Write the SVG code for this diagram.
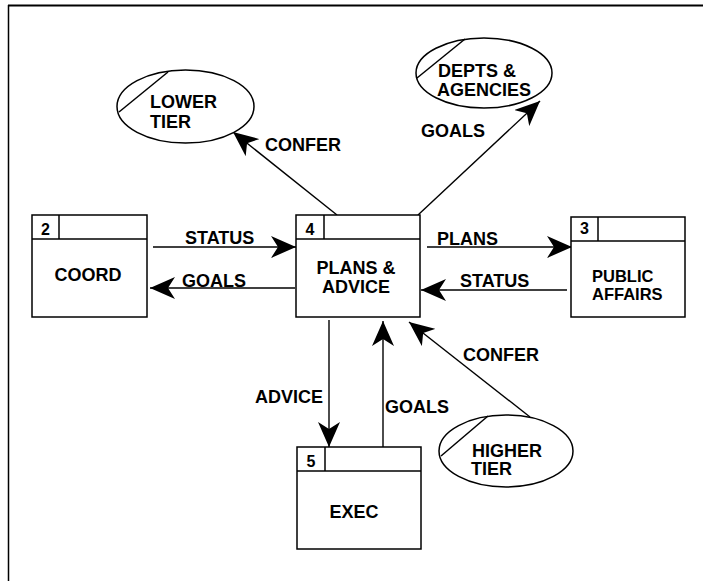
<svg xmlns="http://www.w3.org/2000/svg" width="703" height="582" viewBox="0 0 703 582">
<style>
.t{font-family:"Liberation Sans",Arial,sans-serif;font-weight:bold;font-size:18px;fill:#000}
.n{font-family:"Liberation Sans",Arial,sans-serif;font-weight:bold;font-size:16px;fill:#000;text-anchor:middle}
.c{text-anchor:middle}
.box{fill:#fff;stroke:#000;stroke-width:1.5}
.ln{fill:none;stroke:#000;stroke-width:1.5}
.fl{fill:none;stroke:#000;stroke-width:1.4}
</style>
<defs>
<marker id="ah" markerUnits="userSpaceOnUse" viewBox="0 0 25 22" markerWidth="25" markerHeight="22" refX="25" refY="11" orient="auto">
<path d="M25,11 L0,0 L7,11 L0,22 Z" fill="#000"/>
</marker>
</defs>
<rect width="703" height="582" fill="#fff"/>
<g id="frame">
<line x1="8" y1="5.5" x2="703" y2="5.5" stroke="#000" stroke-width="2"/>
<line x1="8.5" y1="5" x2="8.5" y2="581" stroke="#000" stroke-width="1.5"/>
</g>
<g id="connectors">
<line class="fl" x1="153" y1="247" x2="296" y2="247" marker-end="url(#ah)"/>
<line class="fl" x1="295" y1="288" x2="150" y2="288" marker-end="url(#ah)"/>
<line class="fl" x1="427" y1="247" x2="572" y2="247" marker-end="url(#ah)"/>
<line class="fl" x1="567" y1="290" x2="421" y2="290" marker-end="url(#ah)"/>
<line class="fl" x1="329" y1="320" x2="329" y2="447" marker-end="url(#ah)"/>
<line class="fl" x1="383" y1="447" x2="383" y2="321" marker-end="url(#ah)"/>
<line class="fl" x1="530" y1="417" x2="409" y2="322" marker-end="url(#ah)"/>
<line class="fl" x1="337" y1="215" x2="233" y2="132" marker-end="url(#ah)"/>
<line class="fl" x1="418" y1="215" x2="540" y2="101" marker-end="url(#ah)"/>
<text class="t" x="185" y="244">STATUS</text>
<text class="t" x="182" y="287">GOALS</text>
<text class="t" x="437" y="245">PLANS</text>
<text class="t" x="460" y="287">STATUS</text>
<text class="t" x="255" y="403">ADVICE</text>
<text class="t" x="385" y="413">GOALS</text>
<text class="t" x="463" y="361">CONFER</text>
<text class="t" x="265" y="151">CONFER</text>
<text class="t" x="421" y="137">GOALS</text>
</g>
<g id="node2">
<rect class="box" x="32" y="215" width="115" height="102"/>
<line class="ln" x1="32" y1="239" x2="147" y2="239"/>
<line class="ln" x1="59" y1="215" x2="59" y2="239"/>
<text class="n" x="45.5" y="235">2</text>
<text class="t c" x="88" y="281">COORD</text>
</g>
<g id="node4">
<rect class="box" x="296" y="215" width="124" height="102"/>
<line class="ln" x1="296" y1="239" x2="420" y2="239"/>
<line class="ln" x1="324" y1="215" x2="324" y2="239"/>
<text class="n" x="310" y="235">4</text>
<text class="t c" x="356" y="274">PLANS &amp;</text>
<text class="t c" x="356" y="293">ADVICE</text>
</g>
<g id="node3">
<rect class="box" x="571" y="217" width="114" height="100"/>
<line class="ln" x1="571" y1="241" x2="685" y2="241"/>
<line class="ln" x1="598" y1="217" x2="598" y2="241"/>
<text class="n" x="584.5" y="234">3</text>
<text class="t" x="592" y="282" style="font-size:16.5px">PUBLIC</text>
<text class="t" x="592" y="300" style="font-size:16.5px">AFFAIRS</text>
</g>
<g id="node5">
<rect class="box" x="297" y="447" width="124" height="102"/>
<line class="ln" x1="297" y1="471" x2="421" y2="471"/>
<line class="ln" x1="325" y1="447" x2="325" y2="471"/>
<text class="n" x="311" y="467">5</text>
<text class="t c" x="354" y="518">EXEC</text>
</g>
<g id="lowerTier">
<ellipse class="box" cx="185.5" cy="106.5" rx="68.5" ry="36.5"/>
<line class="ln" x1="119" y1="112" x2="168" y2="72"/>
<text class="t" x="150" y="108">LOWER</text>
<text class="t" x="150" y="128">TIER</text>
</g>
<g id="deptsAgencies">
<ellipse class="box" cx="484" cy="73" rx="68" ry="35"/>
<line class="ln" x1="417" y1="78" x2="465" y2="39"/>
<text class="t" x="438" y="77">DEPTS &amp;</text>
<text class="t" x="437" y="96">AGENCIES</text>
</g>
<g id="higherTier">
<ellipse class="box" cx="506" cy="451" rx="67" ry="36"/>
<line class="ln" x1="441" y1="456" x2="488" y2="416"/>
<text class="t" x="472" y="457">HIGHER</text>
<text class="t" x="471" y="475">TIER</text>
</g>
</svg>
